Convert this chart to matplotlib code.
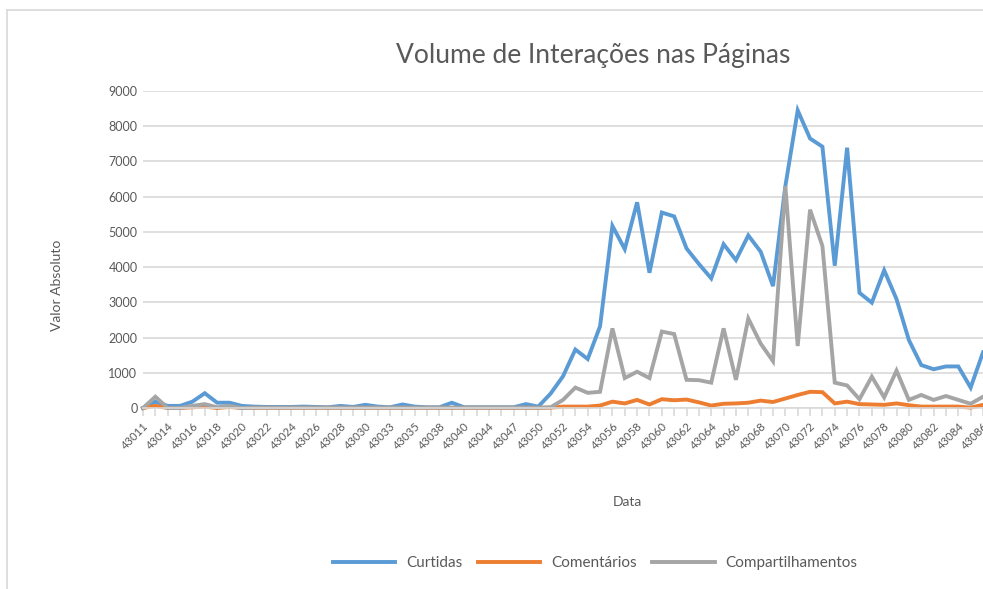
import numpy as np
import matplotlib.pyplot as plt
from matplotlib.lines import Line2D

# -----------------------------
# DATA
# -----------------------------
datas = [43011, 43013, 43014, 43015, 43016, 43017, 43018, 43019, 43020, 43021,
         43022, 43023, 43024, 43025, 43026, 43027, 43028, 43029, 43030, 43032,
         43033, 43034, 43035, 43037, 43038, 43039, 43040, 43042, 43044, 43046,
         43047, 43049, 43050, 43051, 43052, 43053, 43054, 43055, 43056, 43057,
         43058, 43059, 43060, 43061, 43062, 43063, 43064, 43065, 43066, 43067,
         43068, 43069, 43070, 43071, 43072, 43073, 43074, 43075, 43076, 43077,
         43078, 43079, 43080, 43081, 43082, 43083, 43084, 43085, 43086]

curtidas = [0, 180, 60, 60, 180, 420, 150, 150, 60, 40,
            30, 30, 30, 40, 30, 20, 60, 30, 90, 40,
            20, 100, 40, 20, 20, 150, 20, 20, 20, 20,
            20, 110, 40, 410, 900, 1660, 1390, 2320, 5170, 4510,
            5840, 3840, 5550, 5440, 4530, 4090, 3680, 4650, 4200, 4900,
            4440, 3460, 6300, 8450, 7650, 7420, 4040, 7390, 3270, 2990,
            3910, 3090, 1930, 1220, 1100, 1180, 1180, 580, 1580]

comentarios = [0, 60, 0, 0, 20, 40, 0, 30, 0, 5,
               5, 5, 5, 5, 5, 5, 5, 5, 5, 5,
               5, 5, 5, 5, 5, 5, 5, 5, 5, 5,
               5, 5, 5, 10, 40, 40, 40, 70, 180, 130,
               230, 100, 250, 220, 240, 160, 70, 120, 130, 150,
               210, 170, 270, 370, 460, 450, 130, 180, 110, 100,
               90, 130, 80, 40, 40, 40, 40, 10, 90]

compart = [0, 320, 0, 0, 60, 110, 20, 60, 0, 10,
           10, 10, 10, 10, 10, 10, 10, 10, 10, 10,
           10, 10, 10, 10, 10, 10, 10, 10, 10, 10,
           10, 10, 10, 20, 230, 580, 430, 460, 2260, 850,
           1030, 850, 2170, 2100, 800, 790, 720, 2260, 800, 2540,
           1830, 1330, 6300, 1760, 5630, 4600, 720, 640, 250, 890,
           300, 1060, 230, 370, 230, 340, 230, 120, 320]

series_names = ["Curtidas", "Comentários", "Compartilhamentos"]
colors = ["#5B9BD5", "#ED7D31", "#A5A5A5"]

# -----------------------------
# PLOT
# -----------------------------
plt.rcParams['font.family'] = ['Lato', 'DejaVu Sans']
txt = "#595959"
grid_c = "#D9D9D9"

fig = plt.figure(figsize=(9.83, 5.89), dpi=100)
ax = fig.add_axes([143 / 983, 1 - 408 / 589, 1 - 143 / 983, (408 - 91) / 589])

x = np.arange(len(datas))
for vals, name, c in zip([curtidas, comentarios, compart], series_names, colors):
    ax.plot(x, vals, color=c, lw=2.8, label=name, solid_joinstyle="miter", clip_on=False)

ax.set_xlim(0, len(datas) - 1)
ax.set_ylim(0, 9000)
ax.set_yticks(np.arange(0, 9001, 1000))
ax.yaxis.grid(True, color=grid_c, lw=1.2)
ax.set_axisbelow(True)

ax.set_xticks(x)
ax.set_xticklabels([str(d) if i % 2 == 0 else "" for i, d in enumerate(datas)],
                   rotation=45, ha="right", va="top", rotation_mode="anchor")
ax.tick_params(axis="x", colors=grid_c, labelcolor=txt, length=6, width=1.2,
               labelsize=8.2, pad=3)
ax.tick_params(axis="y", length=0, labelcolor=txt, labelsize=9, pad=4)

for s in ["top", "right", "left"]:
    ax.spines[s].set_visible(False)
ax.spines["bottom"].set_color(grid_c)
ax.spines["bottom"].set_linewidth(1.2)

fig.text(57 / 983, 1 - 285 / 589, "Valor Absoluto", color=txt, fontsize=10,
         rotation=90, ha="center", va="center")
fig.text(627 / 983, 1 - 502 / 589, "Data", color=txt, fontsize=10, ha="center", va="center")
fig.text(593 / 983, 1 - 55 / 589, "Volume de Interações nas Páginas", color=txt,
         fontsize=19, ha="center", va="center")

handles = [Line2D([], [], color=c, lw=2.8) for c in colors]
fig.legend(handles, series_names, loc="center", bbox_to_anchor=(595 / 983, 1 - 563 / 589),
           ncol=3, frameon=False, fontsize=11, labelcolor=txt, handlelength=4.1,
           handletextpad=0.7, columnspacing=1.0)

# chart frame (top and left edges visible)
fig.add_artist(Line2D([7 / 983, 7 / 983], [0, 1 - 10 / 589], color=grid_c, lw=1.2))
fig.add_artist(Line2D([7 / 983, 1], [1 - 10 / 589, 1 - 10 / 589], color=grid_c, lw=1.2))

plt.savefig("out.png", dpi=100)
